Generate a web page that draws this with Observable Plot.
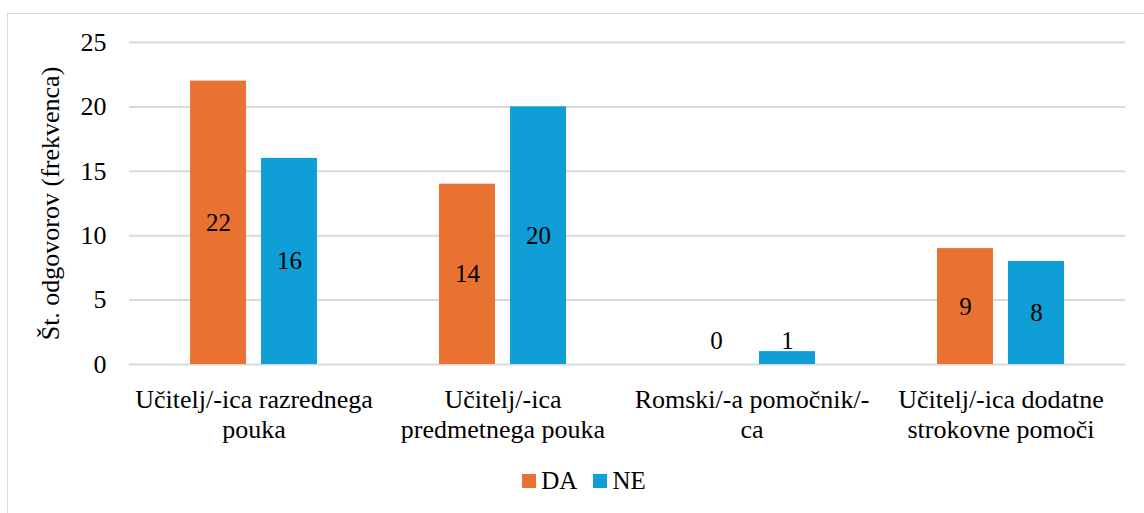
<!DOCTYPE html>
<html>
<head>
<meta charset="utf-8">
<script src="https://cdn.jsdelivr.net/npm/d3@7"></script>
<script src="https://cdn.jsdelivr.net/npm/@observablehq/plot@0.6"></script>
<style>
  html, body { margin: 0; padding: 0; background: #fff; overflow: hidden; }
  body { width: 1144px; height: 513px; position: relative; font-family: "Liberation Serif", "Tinos", "Times New Roman", Times, "DejaVu Serif", serif; }
  #frame { position: absolute; left: 7px; top: 13px; width: 1200px; height: 600px; border-left: 1.5px solid #d9d9d9; border-top: 1.5px solid #d9d9d9; pointer-events: none; }
  #chart { position: relative; }
  #legend { position: relative; height: 53px; display: flex; justify-content: center; align-items: flex-start; padding-left: 24px; box-sizing: border-box; }
  .item { display: flex; align-items: center; margin: 0 8px; font-size: 25px; line-height: 1; color: #000; padding-top: 8px; }
  .sw { width: 14px; height: 14px; margin-right: 5px; }
</style>
</head>
<body>
<div id="frame"></div>
<div id="chart"></div>
<div id="legend"></div>
<script>
const categories = [
  "Učitelj/-ica razrednega\npouka",
  "Učitelj/-ica\npredmetnega pouka",
  "Romski/-a pomočnik/-\nca",
  "Učitelj/-ica dodatne\nstrokovne pomoči"
];
const series = ["DA", "NE"];
const valuesDA = [22, 14, 0, 9];
const valuesNE = [16, 20, 1, 8];
const yTicks = [0, 5, 10, 15, 20, 25];
const colors = ["#E97132", "#0F9ED5"];

const rows = [];
categories.forEach((c, i) => {
  rows.push({cat: c, s: "DA", v: valuesDA[i]});
  rows.push({cat: c, s: "NE", v: valuesNE[i]});
});

const font = "'Liberation Serif', 'Tinos', 'Times New Roman', Times, 'DejaVu Serif', serif";

const chart = Plot.plot({
  width: 1144,
  height: 460,
  marginLeft: 129,
  marginRight: 19,
  marginTop: 42,
  marginBottom: 96,
  style: {fontFamily: font, background: "transparent", color: "#000"},
  fx: {domain: categories, padding: 0},
  x: {domain: series, paddingInner: 0.211, paddingOuter: 0.859, axis: null},
  y: {domain: [0, 25], axis: null},
  color: {domain: series, range: colors},
  marks: [
    Plot.ruleY(yTicks, {y: d => d, stroke: "#d9d9d9", strokeWidth: 2}),
    Plot.barY(rows, {fx: "cat", x: "s", y: "v", fill: "s"}),
    Plot.text(rows, {fx: "cat", x: "s", y: d => Math.max(d.v / 2, 1.86), text: d => String(d.v), fontSize: 25, fill: "#000", fontFamily: font}),
    Plot.axisY({ticks: yTicks, tickSize: 0, tickPadding: 23, fontSize: 26, fontFamily: font, label: "Št. odgovorov (frekvenca)", labelAnchor: "center", labelOffset: 89, labelArrow: "none"}),
    Plot.axisFx({anchor: "bottom", tickSize: 0, tickPadding: 22, fontSize: 26, fontFamily: font, lineHeight: 1.15, label: null, tickFormat: d => d})
  ]
});
document.getElementById("chart").appendChild(chart);

const legend = document.getElementById("legend");
series.forEach((s, i) => {
  const it = document.createElement("div");
  it.className = "item";
  const sw = document.createElement("span");
  sw.className = "sw";
  sw.style.background = colors[i];
  const t = document.createElement("span");
  t.textContent = s;
  it.appendChild(sw);
  it.appendChild(t);
  legend.appendChild(it);
});
</script>
</body>
</html>
